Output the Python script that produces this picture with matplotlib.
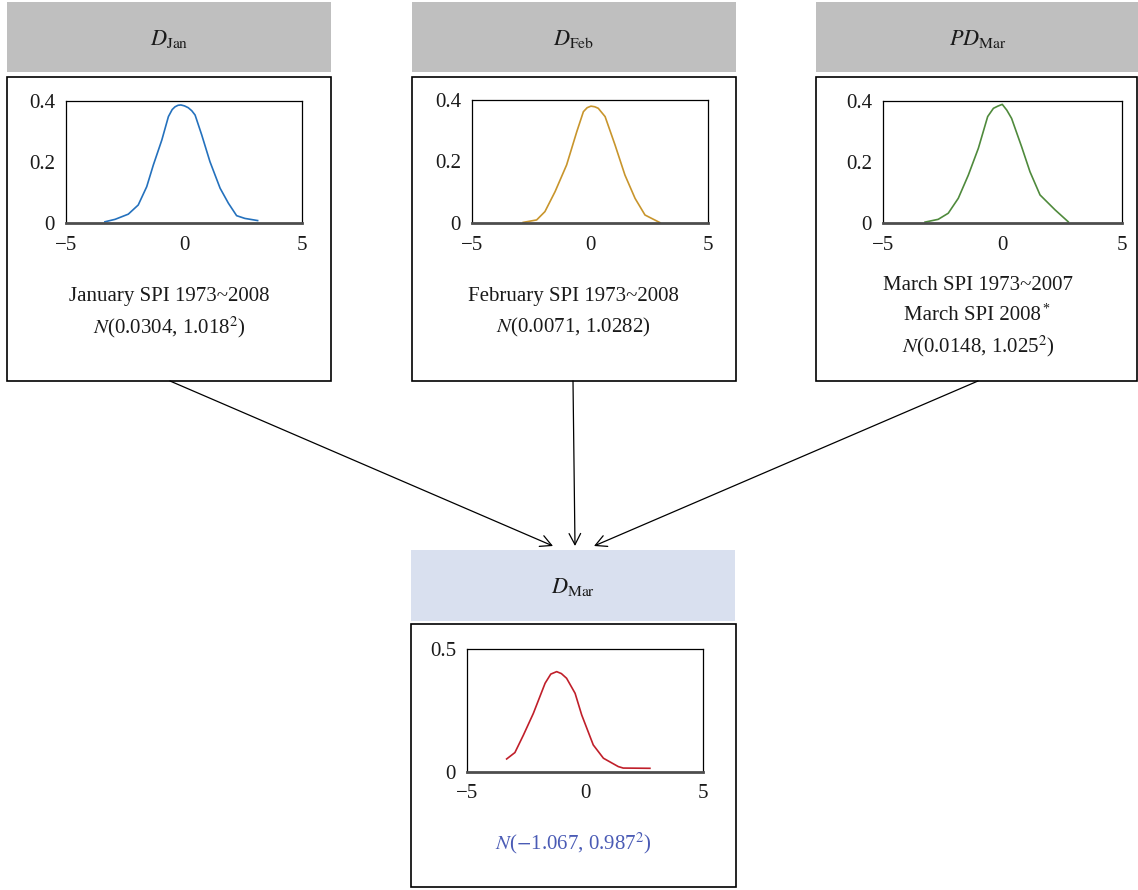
import matplotlib
matplotlib.use("Agg")
import matplotlib.pyplot as plt
from matplotlib.patches import Rectangle, FancyArrowPatch

plt.rcParams['font.family'] = ['Liberation Serif', 'DejaVu Serif']
plt.rcParams['mathtext.fontset'] = 'stix'

# ---- data ----
jan_x = [-3.35, -2.92, -2.36, -1.94, -1.58, -1.30, -0.94, -0.66, -0.50, -0.38, -0.25, -0.13, 0.02, 0.18, 0.33, 0.47, 0.75, 1.10, 1.53, 1.88, 2.23, 2.58, 3.12]
jan_y = [0.004, 0.012, 0.029, 0.059, 0.119, 0.190, 0.272, 0.349, 0.372, 0.381, 0.386, 0.387, 0.384, 0.378, 0.368, 0.354, 0.289, 0.201, 0.114, 0.065, 0.024, 0.015, 0.008]

feb_x = [-2.83, -2.26, -1.91, -1.48, -0.99, -0.56, -0.28, -0.12, 0.04, 0.20, 0.35, 0.64, 1.06, 1.48, 1.91, 2.33, 2.97]
feb_y = [0.002, 0.010, 0.037, 0.102, 0.189, 0.297, 0.362, 0.375, 0.380, 0.378, 0.373, 0.346, 0.254, 0.156, 0.080, 0.026, 0.001]

pdm_x = [-3.24, -2.69, -2.27, -1.85, -1.43, -1.01, -0.62, -0.38, -0.20, -0.01, 0.18, 0.38, 0.80, 1.15, 1.57, 2.20, 2.75]
pdm_y = [0.003, 0.012, 0.032, 0.081, 0.157, 0.245, 0.349, 0.376, 0.383, 0.389, 0.370, 0.343, 0.250, 0.168, 0.092, 0.043, 0.004]

dmar_x = [-3.32, -2.97, -2.61, -2.19, -1.69, -1.45, -1.20, -1.00, -0.78, -0.42, -0.14, 0.35, 0.78, 1.41, 1.62, 2.75]
dmar_y = [0.053, 0.079, 0.150, 0.238, 0.361, 0.398, 0.408, 0.400, 0.381, 0.320, 0.232, 0.110, 0.056, 0.022, 0.016, 0.015]

x_ticks = [-5, 0, 5]
y_ticks_top = [0, 0.2, 0.4]
y_ticks_bottom = [0, 0.5]

headers = [r'$D_{\mathrm{Jan}}$', r'$D_{\mathrm{Feb}}$', r'$PD_{\mathrm{Mar}}$', r'$D_{\mathrm{Mar}}$']
captions = [
    ['January SPI 1973~2008', r'$N$(0.0304, 1.018$^2$)'],
    ['February SPI 1973~2008', r'$N$(0.0071, 1.0282)'],
    ['March SPI 1973~2007', 'March SPI 2008', r'$N$(0.0148, 1.025$^2$)'],
    [r'$N$($-$1.067, 0.987$^2$)'],
]

W, H = 1138, 890
fig = plt.figure(figsize=(W / 100, H / 100), dpi=100)
bg = fig.add_axes([0, 0, 1, 1])
bg.set_xlim(0, W)
bg.set_ylim(H, 0)
bg.axis('off')

FS = 15

def box(x0, y0, x1, y1, **kw):
    bg.add_patch(Rectangle((x0, y0), x1 - x0, y1 - y0, **kw))

# header boxes
gray = '#bfbfbf'
blue_hdr = '#d9e0ef'
hdr_boxes = [(7, 2, 331, 72, gray), (412, 2, 736, 72, gray), (816, 2, 1140, 72, gray), (411, 550, 735, 621, blue_hdr)]
hdr_cx = [169, 574, 978, 573]
for (x0, y0, x1, y1, c), t, cx in zip(hdr_boxes, headers, hdr_cx):
    box(x0, y0, x1, y1, facecolor=c, edgecolor='none')
    bg.text(cx, (y0 + y1) / 2 + 2, t, ha='center', va='center', fontsize=FS + 1, color='#1a1a1a')

# content boxes
cont_boxes = [(7, 77, 331, 381), (412, 77, 736, 381), (816, 77, 1137, 381), (411, 624, 736, 887)]
for (x0, y0, x1, y1) in cont_boxes:
    box(x0, y0, x1, y1, facecolor='white', edgecolor='black', lw=1.2)

# captions
cap_pos = [(169, [296, 327]), (573, [296, 327]), (978, [286, 316, 346]), (573, [843])]
cap_colors = ['#1a1a1a', '#1a1a1a', '#1a1a1a', '#4a5bb5']
for (cx, ys), lines, col in zip(cap_pos, captions, cap_colors):
    for yy, line in zip(ys, lines):
        if line == 'March SPI 2008':
            bg.text(cx + 63, yy, line, ha='right', va='center', fontsize=FS, color=col)
            bg.text(cx + 64, yy - 7, '*', ha='left', va='center', fontsize=FS - 5, color=col)
        else:
            bg.text(cx, yy, line, ha='center', va='center', fontsize=FS, color=col)

# arrows
arrows = [((170, 381), (553, 546)), ((573, 381), (575, 546)), ((978, 381), (594, 546))]
for (p0, p1) in arrows:
    bg.add_patch(FancyArrowPatch(p0, p1, arrowstyle='->,head_length=5,head_width=2.6',
                                 mutation_scale=1.6, lw=0.9, color='black', shrinkA=0, shrinkB=0))

def inset(x0, y0, x1, y1, xs, ys, color, yticks, ylim):
    ax = fig.add_axes([x0 / W, 1 - y1 / H, (x1 - x0) / W, (y1 - y0) / H])
    ax.plot(xs, ys, color=color, lw=1.2, solid_joinstyle='round')
    ax.set_xlim(-5, 5)
    ax.set_ylim(*ylim)
    ax.set_xticks(x_ticks)
    ax.set_yticks(yticks)
    ax.set_yticklabels(['0' if v == 0 else f'{v:g}' for v in yticks])
    ax.tick_params(length=0, labelsize=FS, pad=8, labelcolor='#1a1a1a')
    ax.tick_params(axis='x', pad=9)
    for s in ['left', 'top', 'right']:
        ax.spines[s].set_linewidth(0.9)
    ax.spines['bottom'].set_linewidth(2.0)
    ax.spines['bottom'].set_color('#4d4d4d')
    return ax

inset(66, 101, 302, 223, jan_x, jan_y, '#2471bd', y_ticks_top, (0, 0.4))
inset(472, 100, 708, 223, feb_x, feb_y, '#c8952c', y_ticks_top, (0, 0.4))
inset(883, 101, 1122, 223, pdm_x, pdm_y, '#4f8a3c', y_ticks_top, (0, 0.4))
inset(467, 649, 703, 772, dmar_x, dmar_y, '#c01f2a', y_ticks_bottom, (0, 0.5))

fig.savefig('out.png', dpi=100)
